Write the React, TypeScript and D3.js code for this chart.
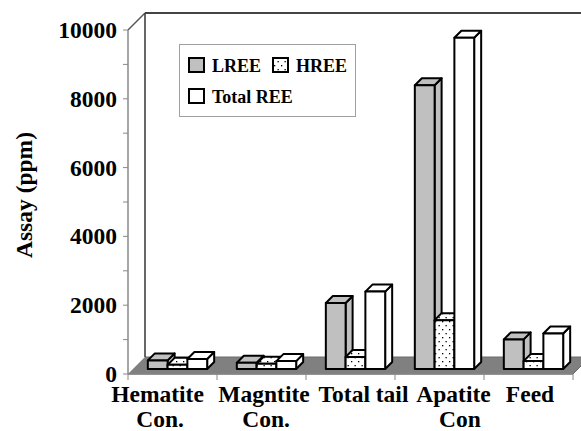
import React from "react";
import * as d3 from "d3";

const categories = ["Hematite Con.", "Magntite Con.", "Total tail", "Apatite Con", "Feed"];
const labelLines = [["Hematite", "Con."], ["Magntite", "Con."], ["Total tail"], ["Apatite", "Con"], ["Feed"]];
const seriesNames = ["LREE", "HREE", "Total REE"];
const lree = [250, 180, 1920, 8250, 860];
const hree = [120, 150, 350, 1420, 230];
const totalRee = [290, 230, 2250, 9630, 1030];
const yTicks = [0, 2000, 4000, 6000, 8000, 10000];
const yMinorTicks = [1000, 3000, 5000, 7000, 9000];

// layout constants
const W = 581, H = 431;
const X0 = 128, X1 = 573, Y0 = 374, YT = 30;
const DEPTH = 17; // floor / wall depth
const BAR_FRONT = 5; // depth position of bar front face
const BAR_DEPTH = 7;
const labelShift1 = [-15, 2.5, 13, 14, 1.5];
const labelShift2 = [-12.5, 4.5, 0, 20.5, 0];
const FONT = "Liberation Serif, Times New Roman, DejaVu Serif, serif";

export default function App() {
  const x = d3.scaleBand<string>().domain(categories).range([X0, X1]).paddingInner(0).paddingOuter(0);
  const xs = d3.scaleBand<string>().domain(seriesNames).range([0, x.bandwidth()]).paddingInner(0).paddingOuter(0.75);
  const y = d3.scaleLinear().domain([0, 10000]).range([Y0, YT]);
  const seriesValues = [lree, hree, totalRee];
  const fills = ["#c0c0c0", "url(#dots)", "#ffffff"];

  const bars: JSX.Element[] = [];
  categories.forEach((c, ci) => {
    seriesNames.forEach((s, si) => {
      const v = seriesValues[si][ci];
      const w = xs.bandwidth();
      const bx = (x(c) as number) + (xs(s) as number) + BAR_FRONT;
      const yt = y(v) - BAR_FRONT;
      const yb = y(0) - BAR_FRONT;
      const b = BAR_DEPTH;
      const fill = fills[si];
      const pts = (a: number[][]) => a.map((p) => p.join(",")).join(" ");
      bars.push(
        <g key={c + s} stroke="#000" strokeWidth={2} strokeLinejoin="round">
          <polygon points={pts([[bx + w, yt], [bx + w + b, yt - b], [bx + w + b, yb - b], [bx + w, yb]])} fill={fill} />
          <polygon points={pts([[bx, yt], [bx + b, yt - b], [bx + w + b, yt - b], [bx + w, yt]])} fill={fill} />
          <rect x={bx} y={yt} width={w} height={yb - yt} fill={fill} />
        </g>
      );
    });
  });

  const floor = [[X0, Y0], [X1, Y0], [X1 + DEPTH, Y0 - DEPTH], [X0 + DEPTH, Y0 - DEPTH]];

  return (
    <svg width={W} height={H} style={{ position: "absolute", left: 0, top: 0, background: "#fff", fontFamily: FONT }}>
      <defs>
        <pattern id="dots" width={7} height={8} patternUnits="userSpaceOnUse">
          <rect width={7} height={8} fill="#fff" />
          <rect x={1} y={1} width={1.3} height={1.3} fill="#000" />
          <rect x={4.5} y={5} width={1.3} height={1.3} fill="#000" />
        </pattern>
      </defs>
      {/* floor */}
      <polygon points={floor.map((p) => p.join(",")).join(" ")} fill="#808080" stroke="#6a6a6a" strokeWidth={1} />
      {/* walls */}
      <line x1={X0} y1={YT} x2={X0 + DEPTH} y2={YT - DEPTH} stroke="#555" strokeWidth={1.5} />
      <line x1={X0 + DEPTH} y1={YT - DEPTH} x2={X0 + DEPTH} y2={Y0 - DEPTH} stroke="#333" strokeWidth={1.5} />
      <line x1={X0 + DEPTH} y1={YT - DEPTH} x2={W + 5} y2={YT - DEPTH} stroke="#444" strokeWidth={2} />
      <polygon points={`${X0},${Y0} ${X0 + DEPTH},${Y0 - DEPTH} ${X0},${Y0 - DEPTH}`} fill="#fff" stroke="none" />
      {/* y axis */}
      <line x1={X0} y1={y(10000)} x2={X0} y2={y(0)} stroke="#888" strokeWidth={1.5} />
      {yTicks.concat(yMinorTicks).map((t) => (
        <line key={"t" + t} x1={X0 - 5} x2={X0} y1={y(t)} y2={y(t)} stroke="#888" strokeWidth={1} />
      ))}
      {yTicks.map((t) => (
        <text key={"l" + t} x={117} y={y(t) + 8} textAnchor="end" fontSize={23.5} fontWeight="bold" fill="#000">
          {t}
        </text>
      ))}
      <text transform={`translate(32,195) rotate(-90)`} textAnchor="middle" fontSize={23.5} fontWeight="bold">
        Assay (ppm)
      </text>
      {/* x axis */}
      <line x1={X0} y1={Y0} x2={X1} y2={Y0} stroke="#888" strokeWidth={1.5} />
      {categories.concat(["_end"]).map((c, i) => {
        const px = i < categories.length ? (x(c) as number) : X1;
        return <line key={"xt" + i} x1={px} x2={px} y1={Y0} y2={Y0 + 6} stroke="#888" strokeWidth={1} />;
      })}
      {bars}
      {categories.map((c, i) => {
        const cx = (x(c) as number) + x.bandwidth() / 2;
        return (
          <g key={"xl" + c} fontSize={23.5} fontWeight="bold" textAnchor="middle">
            <text x={cx + labelShift1[i]} y={402}>{labelLines[i][0]}</text>
            {labelLines[i][1] && <text x={cx + labelShift2[i]} y={427}>{labelLines[i][1]}</text>}
          </g>
        );
      })}
      {/* legend */}
      <rect x={179.5} y={44.5} width={176} height={72} fill="#fff" stroke="#a0a0a0" strokeWidth={1} />
      {seriesNames.map((s, i) => {
        const lx = i === 1 ? 273 : 189;
        const ly = i === 2 ? 89 : 58;
        return (
          <g key={"lg" + s}>
            <rect x={lx} y={ly} width={15} height={14} fill={fills[i]} stroke="#000" strokeWidth={2} />
            <text x={lx + 23} y={ly + 14} fontSize={18} fontWeight="bold">{s}</text>
          </g>
        );
      })}
    </svg>
  );
}
